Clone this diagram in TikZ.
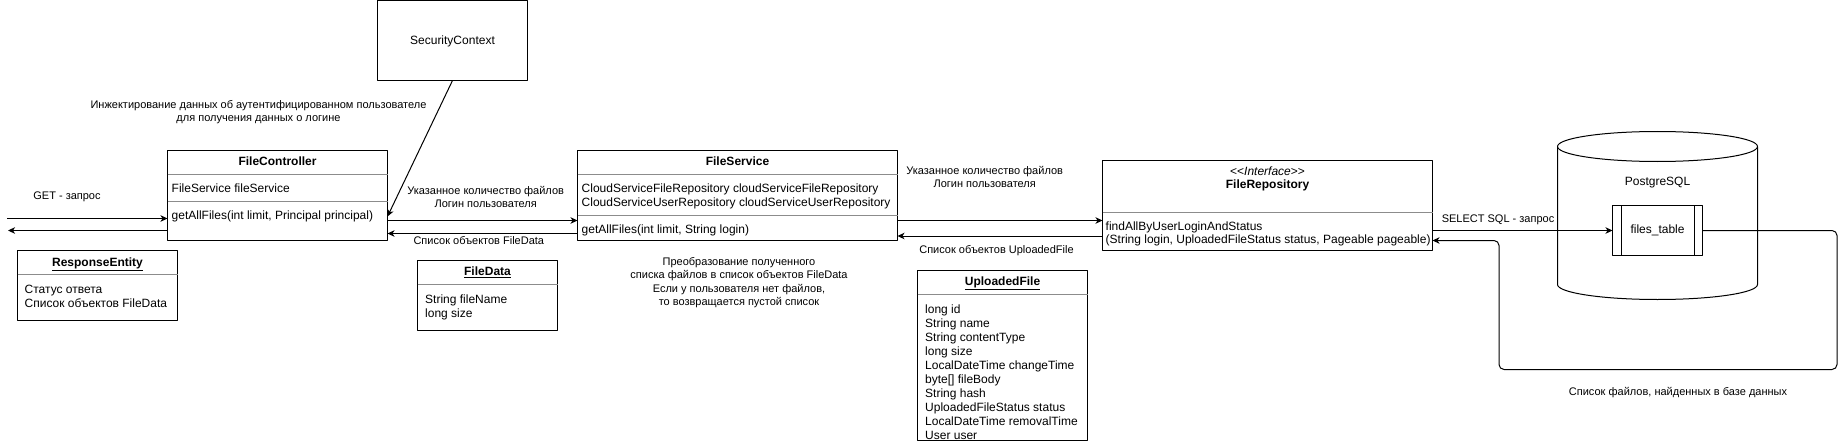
\documentclass[tikz,border=0pt]{standalone}
\usepackage{fontspec}
\setmainfont{Liberation Sans}
\usetikzlibrary{arrows.meta}
\tikzset{
  box/.style={draw, line width=1pt, inner sep=0pt, outer sep=0pt, fill=white},
  sep/.style={draw=black!45, line width=1pt},
  row/.style={inner sep=0pt, anchor=west, font=\fontsize{12}{14}\selectfont,
    text height=8.6pt, text depth=0pt},
  ttl/.style={row, anchor=center, font=\fontsize{12}{14}\selectfont\bfseries},
  lbl/.style={inner sep=0pt, font=\fontsize{11}{13}\selectfont, align=center},
  lbll/.style={lbl, text height=7.9pt, text depth=0pt},
  arr/.style={line width=1pt, -{Stealth[length=7pt, width=6.5pt, inset=2pt]}},
}
\begin{document}
\begin{tikzpicture}[x=1pt,y=-1pt,line join=round]
	\useasboundingbox (0,0) rectangle (1846,441);
	% boxes
	\node[box, minimum width=150, minimum height=80] (sec) at (452.5,40.5) {};
	\node[box, minimum width=220, minimum height=90] (ctrl) at (277.5,195.5) {};
	\node[box, minimum width=320, minimum height=90] (svc) at (737.5,195.5) {};
	\node[box, minimum width=330, minimum height=90] (repo) at (1267.5,205.5) {};
	\node[box, minimum width=160, minimum height=70] (resp) at (97.5,285.5) {};
	\node[box, minimum width=140, minimum height=70] (fdata) at (487.5,295.5) {};
	\node[box, minimum width=170, minimum height=170] (upf) at (1002.5,355.5) {};
	% SecurityContext
	\node[row, anchor=center] (sec-t) at (sec) {SecurityContext};
	% FileController
	\node[ttl] (ctrl-t) at (277.5,161) {FileController};
	\draw[sep] (ctrl.west |- 0,174.5) -- (ctrl.east |- 0,174.5)
		(ctrl.west |- 0,201.5) -- (ctrl.east |- 0,201.5);
	\node[row] (ctrl-a) at (171.5,188) {FileService fileService};
	\node[row] (ctrl-m) at (171.5,215) {getAllFiles(int limit, Principal principal)};
	% FileService
	\node[ttl] (svc-t) at (737.5,161) {FileService};
	\draw[sep] (svc.west |- 0,174.5) -- (svc.east |- 0,174.5)
		(svc.west |- 0,215.5) -- (svc.east |- 0,215.5);
	\node[row] (svc-a1) at (581.5,188.3) {CloudServiceFileRepository cloudServiceFileRepository};
	\node[row] (svc-a2) at (581.5,201.7) {CloudServiceUserRepository cloudServiceUserRepository};
	\node[row] (svc-m) at (581.5,229) {getAllFiles(int limit, String login)};
	% FileRepository
	\node[row, anchor=center] (repo-s) at (1267.5,171.5)
		{\textless\kern0pt\textless\kern0pt\textit{Interface}\kern0pt\textgreater\kern0pt\textgreater};
	\node[ttl] (repo-t) at (1267.5,184.5) {FileRepository};
	\draw[sep] (repo.west |- 0,212.5) -- (repo.east |- 0,212.5);
	\node[row] (repo-m1) at (1105.5,226) {findAllByUserLoginAndStatus};
	\node[row] (repo-m2) at (1105.5,239.5) {(String login, UploadedFileStatus status, Pageable pageable)};
	% ResponseEntity
	\node[ttl] (resp-t) at (97.5,262) {\underline{ResponseEntity}};
	\draw[sep] (resp.west |- 0,274.5) -- (resp.east |- 0,274.5);
	\node[row] (resp-1) at (24.5,288.7) {Статус ответа};
	\node[row] (resp-2) at (24.5,302.7) {Список объектов FileData};
	% FileData
	\node[ttl] (fdata-t) at (487.5,271) {\underline{FileData}};
	\draw[sep] (fdata.west |- 0,284.5) -- (fdata.east |- 0,284.5);
	\node[row] (fdata-1) at (425,298.7) {String fileName};
	\node[row] (fdata-2) at (425,312.7) {long size};
	% UploadedFile
	\node[ttl] (upf-t) at (1002.5,281) {\underline{UploadedFile}};
	\draw[sep] (upf.west |- 0,294.5) -- (upf.east |- 0,294.5);
	\foreach \t [count=\i] in {long id, String name, String contentType, long size,
		LocalDateTime changeTime, {byte[] fileBody}, String hash,
		UploadedFileStatus status, LocalDateTime removalTime, User user}
		\node[row] (upf-\i) at (925,{295+14*\i}) {\t};
	% PostgreSQL
	\draw[line width=1pt] (1557.5,146.5) -- (1557.5,284.5)
		arc[start angle=180, end angle=360, x radius=100pt, y radius=15pt]
		-- (1757.5,146.5);
	\draw[line width=1pt] (1657.5,146.5) ellipse [x radius=100pt, y radius=15pt];
	\node[row, anchor=center] (db-t) at (1657.5,181) {PostgreSQL};
	\node[box, minimum width=90, minimum height=50, font=\fontsize{12}{14}\selectfont]
		(tbl) at (1657.5,230.5) {files\_table};
	\draw[line width=1pt] ([xshift=8.5pt]tbl.north west) -- ([xshift=8.5pt]tbl.south west)
		([xshift=-8.5pt]tbl.north east) -- ([xshift=-8.5pt]tbl.south east);
	% connectors
	\coordinate (getin) at (7,218.5);
	\coordinate (getout) at (8,230.5);
	\draw[arr] (getin) -- (getin -| ctrl.west);
	\draw[arr] (getout -| ctrl.west) -- (getout);
	\draw[arr] (sec.south) -- (ctrl.east |- 0,216.5);
	\draw[arr] (ctrl.east |- 0,220.5) -- (svc.west |- 0,220.5);
	\draw[arr] (svc.west |- 0,233.5) -- (ctrl.east |- 0,233.5);
	\draw[arr] (svc.east |- 0,220.5) -- (repo.west |- 0,220.5);
	\draw[arr] (repo.west |- 0,236) -- (svc.east |- 0,236);
	\draw[arr] (repo.east |- tbl.west) -- (tbl.west);
	\coordinate (r1) at (1837,230.5);
	\coordinate (r2) at (1837,369.5);
	\coordinate (r3) at (1499,369.5);
	\coordinate (r4) at (1499,240.5);
	\draw[arr, rounded corners=5pt] (tbl.east) -- (r1) -- (r2) -- (r3) -- (r4) -- (repo.east |- r4);
	% labels
	\node[lbl] (l-inj) at (258.5,112.6)
		{Инжектирование данных об аутентифицированном пользователе\\для получения данных о логине};
	\node[lbll] (l-get) at (67,195.5) {GET - запрос};
	\node[lbl] (l-req1) at (485.7,197) {Указанное количество файлов\\Логин пользователя};
	\node[lbll] (l-fd) at (478.8,240.7) {Список объектов FileData};
	\node[lbl] (l-req2) at (984.7,177) {Указанное количество файлов\\Логин пользователя};
	\node[lbll] (l-uf) at (996.5,250) {Список объектов UploadedFile};
	\node[lbl, font=\fontsize{11}{13.3}\selectfont] (l-conv) at (739,282.7)
		{Преобразование полученного\\списка файлов в список объектов FileData\\Если у пользователя нет файлов,\\то возвращается пустой список};
	\node[lbll] (l-sql) at (1498,219) {SELECT SQL - запрос};
	\node[lbll] (l-res) at (1678,391.7) {Список файлов, найденных в базе данных};
\end{tikzpicture}
\end{document}
